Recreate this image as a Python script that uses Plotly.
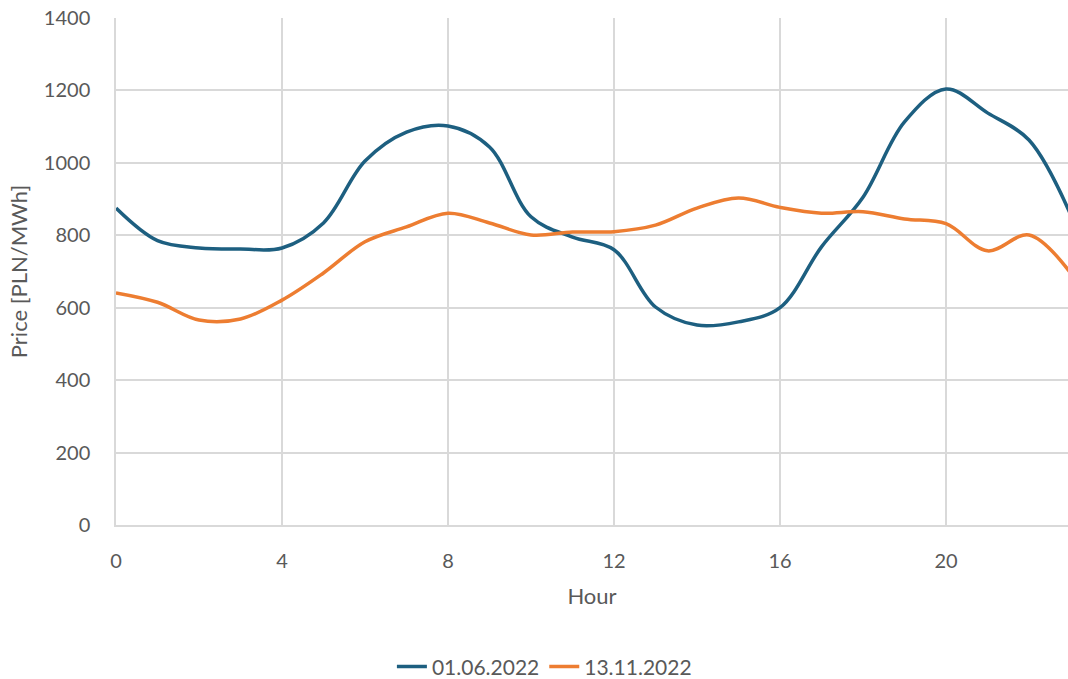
import plotly.graph_objects as go

# Hourly day-ahead prices, PLN/MWh
hours = list(range(24))
price_2022_06_01 = [875, 785, 765, 762, 765, 834, 1005, 1085, 1102, 1044, 851, 795,
                    760, 602, 552, 561, 600, 768, 905, 1113, 1204, 1138, 1063, 858]
price_2022_11_13 = [641, 615, 566, 569, 621, 696, 782, 823, 861, 834, 801, 809,
                    810, 828, 875, 903, 877, 861, 865, 845, 832, 757, 801, 696]

series_names = ["01.06.2022", "13.11.2022"]
series_colors = ["#1d5f80", "#ed7d31"]

x_ticks = [0, 4, 8, 12, 16, 20]
y_ticks = [0, 200, 400, 600, 800, 1000, 1200, 1400]

FONT = "Lato, 'Open Sans', sans-serif"
TEXT = "#595959"
GRID = "#d9d9d9"

fig = go.Figure()
for name, ys, color in zip(series_names, [price_2022_06_01, price_2022_11_13], series_colors):
    fig.add_trace(go.Scatter(
        x=hours, y=ys, name=name, mode="lines",
        line=dict(color=color, width=3.5, shape="spline", smoothing=1.0),
    ))

fig.update_layout(
    width=1068, height=679,
    margin=dict(l=116, r=0, t=18, b=154, autoexpand=False),
    paper_bgcolor="white", plot_bgcolor="white",
    font=dict(family=FONT, size=20, color=TEXT),
    showlegend=True,
    legend=dict(orientation="h", x=0.45, xanchor="center",
                y=-0.28, yanchor="middle", font=dict(size=21, color=TEXT),
                tracegroupgap=0),
)
fig.update_xaxes(
    range=[0, 22.94], tickvals=x_ticks, showgrid=True, gridcolor=GRID, gridwidth=1.5,
    zeroline=False, showline=True, linecolor=GRID, linewidth=1.5,
    ticks="", ticklabelstandoff=17,
    title=dict(text="Hour", standoff=18, font=dict(size=22, color=TEXT)),
)
fig.update_yaxes(
    range=[0, 1400], tickvals=y_ticks, showgrid=True, gridcolor=GRID, gridwidth=1.5,
    zeroline=False, showline=True, linecolor=GRID, linewidth=1.5,
    ticks="", ticklabelstandoff=20,
    title=dict(text="Price [PLN/MWh]", standoff=10, font=dict(size=22, color=TEXT)),
)

fig.write_html("out.html")
